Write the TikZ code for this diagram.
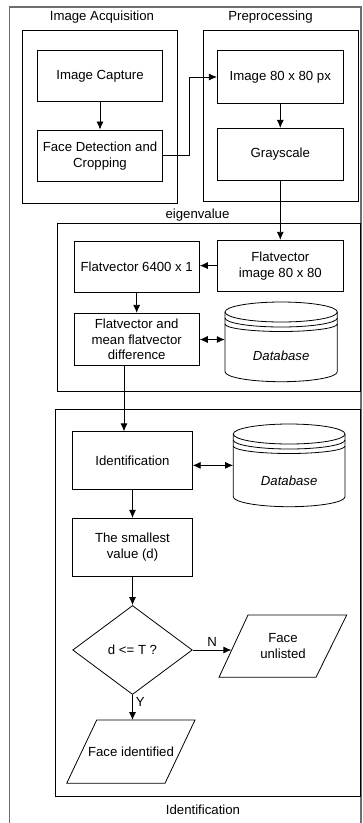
\documentclass[tikz,border=0pt]{standalone}
\usepackage{fontspec}
\setmainfont{Liberation Sans}
\usetikzlibrary{arrows.meta,shapes.geometric,calc}
\begin{document}
\begin{tikzpicture}[x=1pt,y=-1pt,
  every node/.style={font=\fontsize{13.2}{16}\selectfont, inner sep=0pt, align=center},
  box/.style={draw, line width=0.8pt, rectangle},
  frame/.style={draw, line width=0.9pt, rectangle},
  outerframe/.style={draw={rgb,255:red,110;green,110;blue,110}, line width=1.3pt},
  shp/.style={draw, line width=0.8pt},
  arr/.style={draw, line width=0.8pt, -{Latex[length=8pt,width=7pt]}},
  darr/.style={draw, line width=0.8pt, {Latex[length=8pt,width=7pt]}-{Latex[length=8pt,width=7pt]}},
  lbl/.style={font=\fontsize{13.2}{16}\selectfont}
]
\useasboundingbox (0,0) rectangle (362,823);
\draw[outerframe] (9.3,7) rectangle (361,835);

% titles
\node[lbl] (tacq) at (102,17.5) {Image Acquisition};
\node[lbl] (tpre) at (270.5,17.5) {Preprocessing};
\node[lbl] (teig) at (197.5,215) {eigenvalue};
\node[lbl] (tid) at (203,809.5) {Identification};

% frames
\node[frame, minimum width=154.6, minimum height=172.6] (acq) at (100,117) {};
\node[frame, minimum width=155, minimum height=171] (pre) at (280.8,116.2) {};
\node[frame, minimum width=302.3, minimum height=168.4] (eig) at (208.85,307.5) {};
\node[frame, minimum width=305, minimum height=387.4] (idf) at (207.5,603) {};

% acquisition
\node[box, minimum width=125.4, minimum height=51] (cap) at (100,76.2) {Image Capture};
\node[box, minimum width=125.4, minimum height=51.7] (det) at (100,155.8) {Face Detection and\\Cropping};

% preprocessing
\node[box, minimum width=126, minimum height=52.6] (img) at (280.3,77) {Image 80 x 80 px};
\node[box, minimum width=126, minimum height=51.7] (gray) at (280.3,154.2) {Grayscale};

% eigenvalue
\node[box, minimum width=126, minimum height=50.7] (fvi) at (280.3,265.6) {Flatvector\\image 80 x 80};
\node[box, minimum width=125.3, minimum height=51] (fv64) at (136.7,267) {Flatvector 6400 x 1};
\node[box, minimum width=125.3, minimum height=52.4, font=\fontsize{13.2}{15.5}\selectfont] (mean) at (136.7,339.5) {Flatvector and\\mean flatvector\\difference};

% database 1
\node[minimum width=112.3, minimum height=79.7] (db1) at (281.15,341.85) {};
\draw[shp] (225,312) -- (225,371.7) arc[start angle=180,end angle=360,x radius=56.15pt,y radius=10pt] -- (337.3,312);
\draw[shp] (281.15,312) ellipse [x radius=56.15pt, y radius=10pt];
\draw[shp] (225,318) arc[start angle=180,end angle=360,x radius=56.15pt,y radius=9pt];
\draw[shp] (225,324) arc[start angle=180,end angle=360,x radius=56.15pt,y radius=7.5pt];
\node[font=\fontsize{13.2}{16}\selectfont\itshape] (db1t) at (281.15,356) {Database};

% identification
\node[box, minimum width=119.6, minimum height=57.3] (ident) at (132.5,460.4) {Identification};
\node[minimum width=111.7, minimum height=82.7] (db2) at (289.15,465.35) {};
\draw[shp] (233.3,434) -- (233.3,496.7) arc[start angle=180,end angle=360,x radius=55.85pt,y radius=10pt] -- (345,434);
\draw[shp] (289.15,434) ellipse [x radius=55.85pt, y radius=10pt];
\draw[shp] (233.3,440) arc[start angle=180,end angle=360,x radius=55.85pt,y radius=9pt];
\draw[shp] (233.3,446) arc[start angle=180,end angle=360,x radius=55.85pt,y radius=7.5pt];
\node[font=\fontsize{13.2}{16}\selectfont\itshape] (db2t) at (289.15,481) {Database};

\node[box, minimum width=119.6, minimum height=57.7] (small) at (132.5,547.2) {The smallest\\value (d)};
\node[diamond, draw, line width=0.8pt, minimum width=119.6, minimum height=89] (dia) at (132.5,650) {d <= T ?};

% parallelograms
\draw[shp] (248,615) -- (346.7,615) -- (316,677.3) -- (219,677.3) -- cycle;
\node (unl) at (283,646) {Face\\unlisted};
\coordinate (unlL) at (231.4,650);
\draw[shp] (96.7,720) -- (195,720) -- (165,783.3) -- (66.7,783.3) -- cycle;
\node (fid) at (131,751.7) {Face identified};
\coordinate (fidT) at (132.5,720);

% connectors
\draw[arr] (cap) -- (det);
\draw[arr] (det.east) -- ++(26.6,0) |- (img.west);
\draw[arr] (img) -- (gray);
\draw[arr] (gray.south) -- (fvi.north);
\draw[arr] (fvi.west) -- (fvi.west -| fv64.east);
\draw[arr] (fv64) -- (mean);
\draw[darr] (mean.east) -- (mean.east -| db1.west);
\draw[arr] ([xshift=-12.7pt]mean.south) -- ([xshift=-12.7pt]mean.south |- ident.north);
\draw[darr] (db2.west -| ident.east) -- (db2.west);
\draw[arr] (ident) -- (small);
\draw[arr] (small) -- (dia);
\draw[arr] (dia.east) -- node[above=3pt, pos=0.5] (nl) {N} (unlL);
\draw[arr] (dia.south) -- node[right=3pt, pos=0.3] (yl) {Y} (fidT);
\end{tikzpicture}
\end{document}
